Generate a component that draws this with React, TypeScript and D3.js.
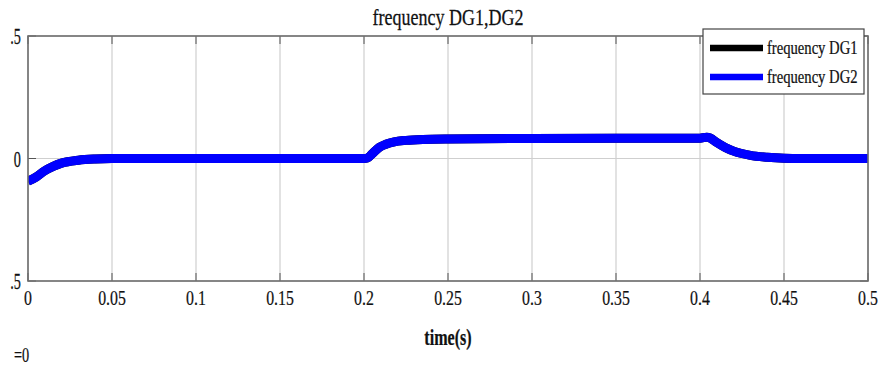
import React from "react";
import * as d3 from "d3";

const timeS: number[] = [
  0, 0.005, 0.01, 0.015, 0.02, 0.03, 0.04, 0.05, 0.1, 0.2, 0.202, 0.205, 0.209,
  0.213, 0.218, 0.225, 0.235, 0.25, 0.3, 0.4, 0.404, 0.406, 0.41, 0.415, 0.42,
  0.43, 0.44, 0.45, 0.46, 0.5,
];
const freqDG2: number[] = [
  49.907, 49.925, 49.95, 49.968, 49.981, 49.993, 49.998, 50.0, 50.0, 50.0,
  50.002, 50.02, 50.045, 50.058, 50.068, 50.074, 50.078, 50.08, 50.082, 50.083,
  50.087, 50.084, 50.065, 50.045, 50.03, 50.013, 50.005, 50.001, 50.0, 50.0,
];
const freqDG1: number[] = freqDG2.slice();
const xTicks: number[] = [0, 0.05, 0.1, 0.15, 0.2, 0.25, 0.3, 0.35, 0.4, 0.45, 0.5];
const xTickLabels: string[] = ["0", "0.05", "0.1", "0.15", "0.2", "0.25", "0.3", "0.35", "0.4", "0.45", "0.5"];
const yTicks: number[] = [49.5, 50, 50.5];
const yTickLabels: string[] = [".5", "0", ".5"];
const seriesNames: string[] = ["frequency DG1", "frequency DG2"];
const seriesColors: string[] = ["#000000", "#0000ff"];

const W = 880;
const H = 367;
const L = 28;
const R = 868;
const T = 36;
const B = 281;
const FONT = "'Liberation Serif', 'Times New Roman', serif";

function Txt(props: {
  x: number; y: number; text: string; size: number; sx?: number;
  anchor?: string; weight?: string;
}) {
  const { x, y, text, size, sx = 1, anchor = "start", weight = "normal" } = props;
  return (
    <text
      transform={`translate(${x},${y}) scale(${sx},1)`}
      fontFamily={FONT}
      fontSize={size}
      fontWeight={weight}
      textAnchor={anchor}
      fill="#111"
      stroke="#111"
      strokeWidth={0.25}
    >
      {text}
    </text>
  );
}

export default function App() {
  const x = d3.scaleLinear().domain([0, 0.5]).range([L, R]);
  const y = d3.scaleLinear().domain([49.5, 50.5]).range([B, T]);
  const line = d3
    .line<number>()
    .x((_, i) => x(timeS[i]))
    .y((d) => y(d))
    .curve(d3.curveMonotoneX);
  const series = [freqDG1, freqDG2];

  return (
    <svg
      width={W}
      height={H}
      style={{ position: "absolute", left: 0, top: 0, background: "#fff" }}
    >
      <defs>
        <clipPath id="plotclip">
          <rect x={L} y={T} width={R - L} height={B - T} />
        </clipPath>
      </defs>
      <rect x={0} y={0} width={W} height={H} fill="#fff" />
      {/* grid */}
      {xTicks.map((t, i) => (
        <line key={"gx" + i} x1={x(t)} x2={x(t)} y1={T} y2={B} stroke="#cfcfcf" strokeWidth={1.2} />
      ))}
      {yTicks.map((t, i) => (
        <line key={"gy" + i} x1={L} x2={R} y1={y(t)} y2={y(t)} stroke="#cfcfcf" strokeWidth={1.2} />
      ))}
      {/* tick marks */}
      {xTicks.map((t, i) => (
        <g key={"tx" + i}>
          <line x1={x(t)} x2={x(t)} y1={T} y2={T + 8} stroke="#555" strokeWidth={1} />
          <line x1={x(t)} x2={x(t)} y1={B} y2={B - 8} stroke="#555" strokeWidth={1} />
        </g>
      ))}
      {yTicks.map((t, i) => (
        <g key={"ty" + i}>
          <line x1={L} x2={L + 8} y1={y(t)} y2={y(t)} stroke="#555" strokeWidth={1} />
          <line x1={R} x2={R - 8} y1={y(t)} y2={y(t)} stroke="#555" strokeWidth={1} />
        </g>
      ))}
      {/* lines */}
      <g clipPath="url(#plotclip)">
        {series.map((s, i) => (
          <path
            key={"s" + i}
            d={line(s) || ""}
            fill="none"
            stroke={seriesColors[i]}
            strokeWidth={9}
            strokeLinejoin="round"
          />
        ))}
      </g>
      {/* frame */}
      <rect x={L} y={T} width={R - L} height={B - T} fill="none" stroke="#6e6e6e" strokeWidth={1.6} />
      {/* x tick labels */}
      {xTicks.map((t, i) => (
        <Txt key={"xl" + i} x={x(t)} y={305} text={xTickLabels[i]} size={22} sx={0.72} anchor="middle" />
      ))}
      {/* y tick labels */}
      {yTicks.map((t, i) => (
        <Txt key={"yl" + i} x={21} y={y(t) + 8} text={yTickLabels[i]} size={23} sx={0.62} anchor="end" />
      ))}
      {/* title and axis label */}
      <Txt x={448} y={25} text="frequency DG1,DG2" size={22.5} sx={0.8} anchor="middle" />
      <Txt x={448} y={345} text="time(s)" size={23} sx={0.7} anchor="middle" weight="bold" />
      <Txt x={14} y={362} text="=0" size={22} sx={0.65} />
      {/* legend */}
      <rect x={703} y={29} width={161} height={65} fill="#fff" stroke="#444" strokeWidth={1.2} />
      {seriesNames.map((n, i) => {
        const ly = 48 + i * 29;
        return (
          <g key={"lg" + i}>
            <line x1={710} x2={763} y1={ly} y2={ly} stroke={seriesColors[i]} strokeWidth={6.5} />
            <Txt x={767} y={ly + 6} text={n} size={19} sx={0.77} />
          </g>
        );
      })}
    </svg>
  );
}
